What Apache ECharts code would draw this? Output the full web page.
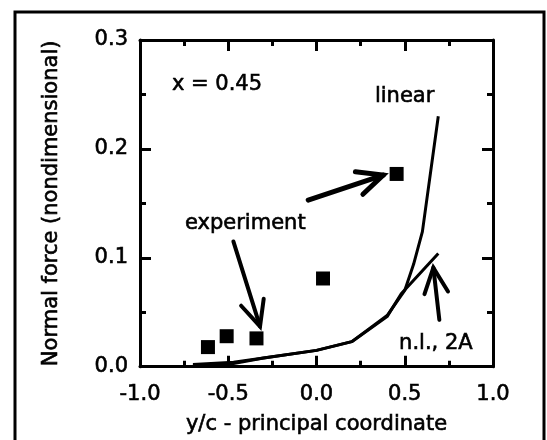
<!DOCTYPE html>
<html>
<head>
<meta charset="utf-8">
<script src="https://cdn.jsdelivr.net/npm/echarts@6/dist/echarts.min.js"></script>
<style>
  html, body { margin: 0; padding: 0; background: #fff; }
  #chart { width: 547px; height: 440px; }
</style>
</head>
<body>
<div id="chart"></div>
<script>
// Spanwise normal force distribution at x = 0.45
const experiment = [
  [-0.615, 0.018], [-0.509, 0.028], [-0.340, 0.026], [0.037, 0.081], [0.454, 0.177]
];
const linearTheory = [
  [-0.70, 0.002], [-0.47, 0.004], [-0.30, 0.008], [0.00, 0.015], [0.20, 0.023],
  [0.40, 0.047], [0.50, 0.070], [0.55, 0.094], [0.60, 0.124], [0.69, 0.230]
];
const nonlinear2A = [
  [-0.70, 0.001], [-0.47, 0.003], [-0.30, 0.008], [0.00, 0.015], [0.20, 0.023],
  [0.40, 0.046], [0.48, 0.067], [0.69, 0.104]
];
// arrows: [fromX, fromY, tipX, tipY, lineWidth]
const arrows = [
  [-0.047, 0.153, 0.378, 0.176, 5],
  [-0.471, 0.115, -0.320, 0.037, 4],
  [0.696, 0.043, 0.662, 0.091, 4]
];
// text notes: [text, x, y]
const notes = [
  ['x = 0.45', -0.819, 0.259],
  ['linear', 0.331, 0.248],
  ['experiment', -0.745, 0.131],
  ['n.l., 2A', 0.468, 0.021]
];

const FONT = '"DejaVu Sans", sans-serif';
const fmt = v => v.toFixed(1);
const inkText = { color: '#000', fontFamily: FONT, fontSize: 21, textBorderColor: '#000', textBorderWidth: 0.6 };

function axisCommon(extra) {
  return Object.assign({
    type: 'value',
    axisLine: { show: true, onZero: false, lineStyle: { color: '#000', width: 3 } },
    axisTick: { show: true, inside: true, length: 11, lineStyle: { color: '#000', width: 3 } },
    minorTick: { show: true, splitNumber: 2, length: 6, lineStyle: { color: '#000', width: 3 } },
    splitLine: { show: false },
    minorSplitLine: { show: false }
  }, extra);
}

const chart = echarts.init(document.getElementById('chart'));
chart.setOption({
  animation: false,
  backgroundColor: '#fff',
  grid: { left: 140, right: 54, top: 40, bottom: 67 },
  xAxis: [
    axisCommon({
      min: -1, max: 1, interval: 0.5, position: 'bottom',
      axisLabel: Object.assign({ formatter: fmt, margin: 17 }, inkText),
      name: 'y/c - principal coordinate', nameLocation: 'middle', nameGap: 47,
      nameTextStyle: inkText
    }),
    axisCommon({ min: -1, max: 1, interval: 0.5, position: 'top', axisLabel: { show: false } })
  ],
  yAxis: [
    axisCommon({
      min: 0, max: 0.3, interval: 0.1, position: 'left',
      axisLabel: Object.assign({ formatter: fmt, margin: 12, padding: [5, 0, 0, 0] }, inkText),
      name: 'Normal force (nondimensional)', nameLocation: 'middle', nameGap: 78,
      nameTextStyle: inkText
    }),
    axisCommon({ min: 0, max: 0.3, interval: 0.1, position: 'right', axisLabel: { show: false } })
  ],
  series: [
    {
      name: 'linear', type: 'line', data: linearTheory, showSymbol: false, symbol: 'none',
      lineStyle: { color: '#000', width: 3 }, z: 3
    },
    {
      name: 'n.l., 2A', type: 'line', data: nonlinear2A, showSymbol: false, symbol: 'none',
      lineStyle: { color: '#000', width: 3 }, z: 3
    },
    {
      name: 'experiment', type: 'scatter', data: experiment, symbol: 'rect', symbolSize: 14,
      itemStyle: { color: '#000', opacity: 1 }, z: 4
    },
    {
      name: 'arrows', type: 'custom', data: arrows, silent: true, z: 5,
      renderItem: function (params, api) {
        const a = api.coord([api.value(0), api.value(1)]);
        const b = api.coord([api.value(2), api.value(3)]);
        const w = api.value(4);
        const back = Math.atan2(a[1] - b[1], a[0] - b[0]);
        const L = 28, half = 25 * Math.PI / 180;
        const h1 = [b[0] + L * Math.cos(back + half), b[1] + L * Math.sin(back + half)];
        const h2 = [b[0] + L * Math.cos(back - half), b[1] + L * Math.sin(back - half)];
        return {
          type: 'group',
          children: [
            { type: 'polyline', shape: { points: [a, b] },
              style: { stroke: '#000', lineWidth: w, fill: null, lineCap: 'round' } },
            { type: 'polyline', shape: { points: [h1, b, h2] },
              style: { stroke: '#000', lineWidth: w, fill: null, lineCap: 'round', lineJoin: 'miter' } }
          ]
        };
      }
    },
    {
      name: 'notes', type: 'custom', data: notes.map(n => [n[1], n[2]]), silent: true, z: 6,
      renderItem: function (params, api) {
        const p = api.coord([api.value(0), api.value(1)]);
        return {
          type: 'text', x: p[0], y: p[1],
          style: {
            text: notes[params.dataIndex][0], fill: '#000',
            font: '21px ' + FONT, align: 'left', verticalAlign: 'middle',
            stroke: '#000', lineWidth: 0.6
          }
        };
      }
    }
  ],
  graphic: [
    {
      type: 'polyline', silent: true,
      shape: { points: [[544, 440], [544, 12], [15, 12], [15, 440]] },
      style: { stroke: '#000', lineWidth: 3, fill: null }
    }
  ]
});
</script>
</body>
</html>
